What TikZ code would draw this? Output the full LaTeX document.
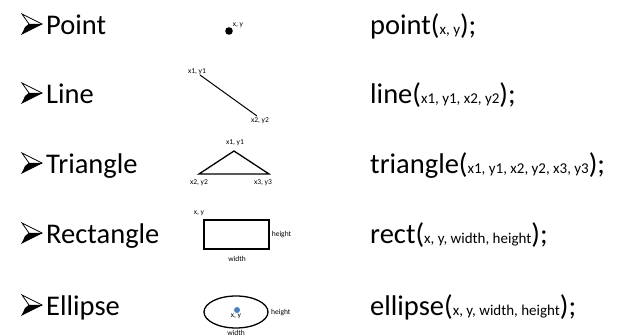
\documentclass[tikz,border=0pt]{standalone}
\usepackage{fontspec}
\setmainfont{Carlito}
\newcommand\bigf{\fontsize{28.5}{32}\selectfont}
\newcommand\argf{\fontsize{15}{17}\selectfont}
\newcommand\lblf{\fontsize{7.5}{9}\selectfont}
\definecolor{dotblue}{RGB}{79,129,189}
\begin{document}
\begin{tikzpicture}[x=1pt,y=-1pt,
  item/.style={anchor=base west,inner sep=0pt,font=\bigf},
  code/.style={anchor=base west,inner sep=0pt,font=\bigf},
  lbl/.style={inner sep=0pt,font=\lblf},
  figline/.style={draw=black,line width=1.3pt},
  bulletpic/.pic={
    \draw[line width=0.8pt,line join=miter] (0,-10) -- (20,0) -- (0,10) -- (7,0) -- cycle;
    \fill (7,0) -- (20,0) -- (0,10) -- (3,3) -- cycle;
    \draw[line width=0.6pt] (7,0) -- (20,0);
  }]
\useasboundingbox (0,0) rectangle (624,336);
% left column
\foreach \n/\t/\yy in {b1/Point/35,b2/Line/104,b3/Triangle/174,b4/Rectangle/244,b5/Ellipse/316}{
  \pic at (22,\yy-11) {bulletpic};
  \node[item] (\n t) at (46,\yy) {\t};
}
% right column
\node[code] (c1) at (370,35) {point(\argf x, y\bigf);};
\node[code] (c2) at (370,104) {line(\argf x1, y1, x2, y2\bigf);};
\node[code] (c3) at (370,174) {triangle(\argf x1, y1, x2, y2, x3, y3\bigf);};
\node[code] (c4) at (370,244) {rect(\argf x, y, width, height\bigf);};
\node[code] (c5) at (370,316) {ellipse(\argf x, y, width, height\bigf);};
% point
\fill (229,31) circle (3.8);
\node[lbl] (pl) at (238,25) {x, y};
% line
\coordinate (l1) at (200,75);
\coordinate (l2) at (257,116);
\draw[line width=1pt] (l1) -- (l2);
\node[lbl] (l1l) at (197,72) {x1, y1};
\node[lbl] (l2l) at (260,121) {x2, y2};
% triangle
\coordinate (t1) at (234,151);
\coordinate (t2) at (199,174);
\coordinate (t3) at (269,174);
\draw[figline,line join=miter] (t2) -- (t1) -- (t3) -- cycle;
\node[lbl] (t1l) at (235,143) {x1, y1};
\node[lbl] (t2l) at (199,183) {x2, y2};
\node[lbl] (t3l) at (263,183) {x3, y3};
% rectangle
\node[figline,minimum width=65,minimum height=29,inner sep=0pt] (r) at (236.5,234.5) {};
\node[lbl] (rxy) at (199,213) {x, y};
\node[lbl,anchor=west] (rh) at ([xshift=2pt]r.east) {height};
\node[lbl] (rw) at (237,259) {width};
% ellipse
\draw[figline] (236,312) ellipse (32 and 16);
\node[lbl] (exy) at (236,316) {x, y};
\fill[dotblue] (237,310) circle (3);
\node[lbl,anchor=west] (eh) at (271,313) {height};
\node[lbl] (ew) at (236,333) {width};
\end{tikzpicture}
\end{document}
